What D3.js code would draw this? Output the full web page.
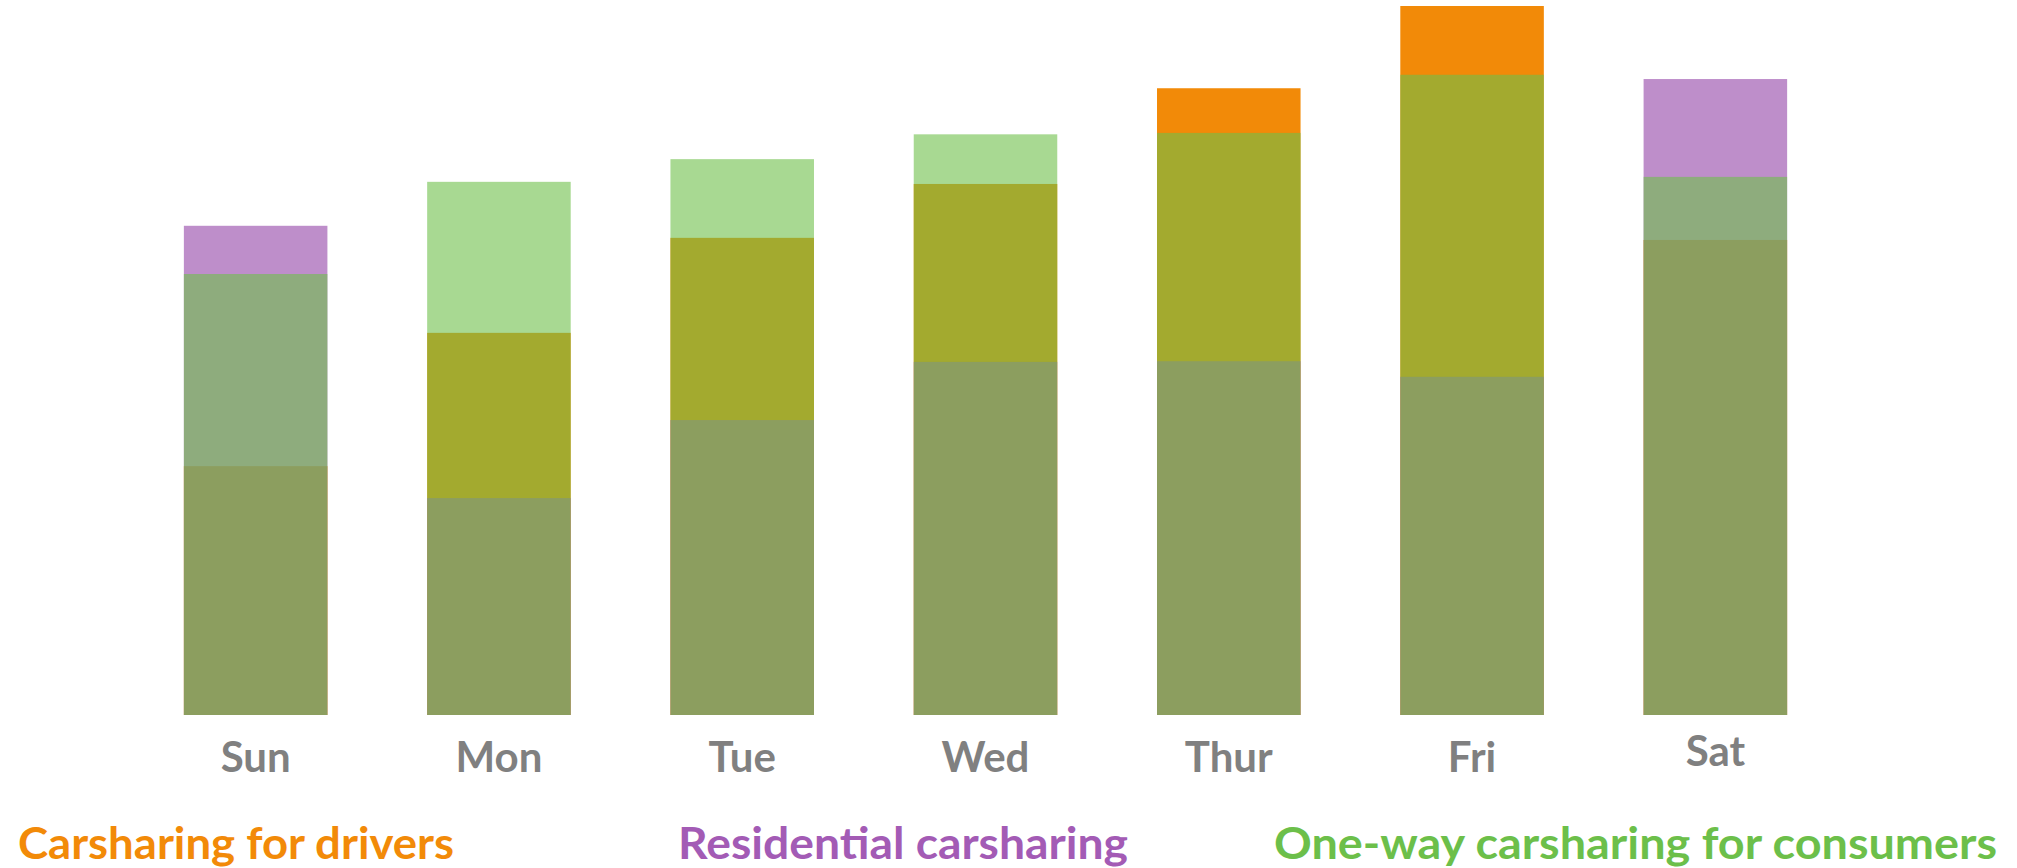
<!DOCTYPE html>
<html>
<head>
<meta charset="utf-8">
<script src="https://cdn.jsdelivr.net/npm/d3@7"></script>
<style>
  html, body { margin: 0; padding: 0; background: #fff; }
  svg { display: block; }
</style>
</head>
<body>
<div id="chart"></div>
<script>
const days = ["Sun", "Mon", "Tue", "Wed", "Thur", "Fri", "Sat"];
// share of the day's peak (Fri drivers = 100)
const drivers = [35.1, 53.9, 67.3, 74.9, 88.4, 100, 67.0];
const residential = [69.0, 30.6, 41.6, 49.8, 49.9, 47.7, 89.7];
const oneWay = [62.2, 75.2, 78.4, 81.9, 82.1, 90.3, 75.9];
const seriesNames = ["Carsharing for drivers", "Residential carsharing", "One-way carsharing for consumers"];

const width = 2017;
const height = 868;
const baseline = 715;

// bars are overlaid, not stacked: drivers underneath, one-way on top
const layers = [
  { values: drivers, color: "#f28a08", opacity: 1 },
  { values: residential, color: "#a25eb3", opacity: 0.7 },
  { values: oneWay, color: "#6ec049", opacity: 0.6 }
];

const x = d3.scaleBand()
  .domain(days)
  .range([134, 1837])
  .paddingInner(0.41)
  .paddingOuter(0.205);

const y = d3.scaleLinear()
  .domain([0, 100])
  .range([baseline, 6]);

const svg = d3.select("#chart")
  .append("svg")
  .attr("width", width)
  .attr("height", height);

layers.forEach(layer => {
  svg.append("g")
    .attr("fill", layer.color)
    .attr("fill-opacity", layer.opacity)
    .selectAll("rect")
    .data(layer.values)
    .enter()
    .append("rect")
    .attr("x", (d, i) => x(days[i]))
    .attr("width", x.bandwidth())
    .attr("y", d => y(d))
    .attr("height", d => baseline - y(d));
});

const axis = svg.append("g")
  .attr("transform", `translate(0, ${baseline})`)
  .call(d3.axisBottom(x).tickSize(0).tickPadding(27));

axis.select(".domain").remove();
axis.selectAll("text")
  .attr("fill", "#808080")
  .style("font-family", "Lato, 'Open Sans', sans-serif")
  .style("font-weight", "bold")
  .style("font-size", "42px");
// the Sat label sits a little higher in the original
axis.selectAll(".tick")
  .filter(d => d === "Sat")
  .select("text")
  .attr("y", 21);

const legendColors = ["#f28a08", "#a35bb5", "#6cbf4a"];
const legendX = [18, 678, 1274];
const legendW = [436, 450, 723];

svg.append("g")
  .selectAll("text")
  .data(seriesNames)
  .enter()
  .append("text")
  .attr("x", (d, i) => legendX[i])
  .attr("y", 859)
  .attr("textLength", (d, i) => legendW[i])
  .attr("lengthAdjust", "spacingAndGlyphs")
  .attr("fill", (d, i) => legendColors[i])
  .style("font-family", "Lato, 'Open Sans', sans-serif")
  .style("font-weight", "bold")
  .style("font-size", "44px")
  .text(d => d);
</script>
</body>
</html>
